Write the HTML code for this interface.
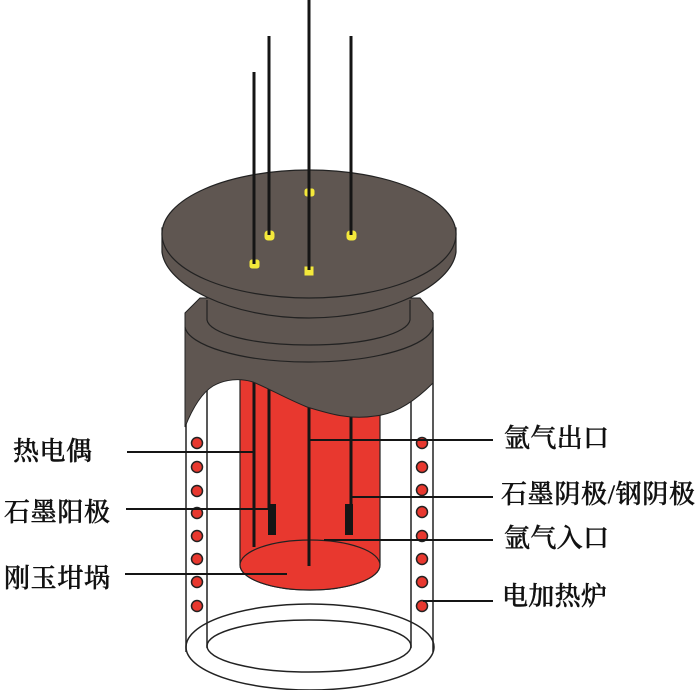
<!DOCTYPE html>
<html><head><meta charset="utf-8"><style>
html,body{margin:0;padding:0;background:#fff}
svg{display:block}
text{font-family:"Liberation Serif","Noto Serif CJK SC",serif;font-size:26px;fill:#111;stroke:#111;stroke-width:.45px;font-weight:500}
</style></head><body>
<svg width="700" height="690" viewBox="0 0 700 690" xmlns="http://www.w3.org/2000/svg">
<g fill="none" stroke="#222" stroke-width="1.5">
<ellipse cx="310" cy="647" rx="124" ry="43"/>
<ellipse cx="309" cy="646" rx="102" ry="26"/>
<path d="M186 320V652M207 320V648M411 320V648M433 320V652"/>
</g>
<g fill="#e8382f" stroke="#222" stroke-width="1.2">
<path d="M240 370H380V565A70 25 0 0 1 240 565Z"/>
<ellipse cx="310" cy="565" rx="70" ry="25"/>
</g>
<g fill="#e8382f" stroke="#222" stroke-width="1.5">
<circle cx="197" cy="443" r="5.5"/><circle cx="197" cy="467" r="5.5"/><circle cx="197" cy="491" r="5.5"/><circle cx="197" cy="513" r="5.5"/><circle cx="197" cy="536" r="5.5"/><circle cx="197" cy="559" r="5.5"/><circle cx="197" cy="582" r="5.5"/><circle cx="197" cy="606" r="5.5"/>
<circle cx="422" cy="443" r="5.5"/><circle cx="422" cy="467" r="5.5"/><circle cx="422" cy="490" r="5.5"/><circle cx="422" cy="512" r="5.5"/><circle cx="422" cy="536" r="5.5"/><circle cx="422" cy="559" r="5.5"/><circle cx="422" cy="582" r="5.5"/><circle cx="422" cy="606" r="5.5"/>
</g>
<g stroke="#151515" stroke-width="3" fill="none">
<path d="M254 380V547M269 380V510M351 410V510M309 400V566"/>
</g>
<rect x="268" y="504" width="8" height="31" fill="#151515"/>
<rect x="345" y="504" width="8" height="31" fill="#151515"/>
<path d="M185 427V313L200 298L420 298L433 313V383C418 398 398 414 375 416C350 420 330 414 307 407C285 398 268 388 253 382C240 378 225 379 213 386C200 394 191 412 185 427Z" fill="#5f5651" stroke="#222" stroke-width="1"/>
<g fill="none" stroke="#222" stroke-width="1.2">
<path d="M185 327C188 345 240 362 309 362C378 362 430 345 433 327"/>
<path d="M207 300V320C209 333 250 345 309 345C368 345 408 333 410 320V300"/>
</g>
<path d="M162 228V252C166 285 230 318 309 318C388 318 452 285 456 252V228Z" fill="#5f5651" stroke="#222" stroke-width="1.2"/>
<ellipse cx="309" cy="234" rx="147" ry="64" fill="#5f5651" stroke="#222" stroke-width="1.2"/>
<g fill="#f4e93b" stroke="#f4e93b">
<rect x="305" y="189" width="9" height="7" rx="2"/>
<rect x="265" y="231" width="9" height="9" rx="3"/>
<rect x="347" y="231" width="9" height="9" rx="3"/>
<rect x="250" y="260" width="9" height="8" rx="2"/>
<rect x="305" y="267" width="8" height="8"/>
</g>
<g stroke="#151515" stroke-width="3" fill="none">
<path d="M254 72V264M269 36V235M351 36V235M309 0V270"/>
</g>
<g stroke="#151515" stroke-width="2" fill="none">
<path d="M127 452H254M126 509H268M125 574H287M310 440H493M352 497H493M324 540H493M423 601H493"/>
</g>
<text x="13" y="460" textLength="79">热电偶</text>
<text x="4" y="521" textLength="106">石墨阳极</text>
<text x="4" y="587" textLength="106">刚玉坩埚</text>
<text x="504" y="447" textLength="105">氩气出口</text>
<text x="501" y="503" textLength="194">石墨阴极/钢阴极</text>
<text x="504" y="547" textLength="105">氩气入口</text>
<text x="502" y="605" textLength="105">电加热炉</text>
</svg>
</body></html>
